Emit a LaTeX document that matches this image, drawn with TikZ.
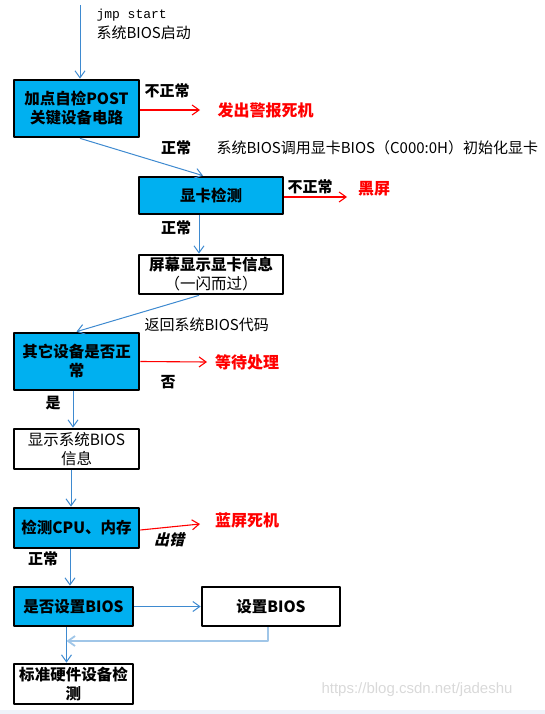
\documentclass[tikz,border=0pt]{standalone}
\usepackage{fontspec}
\setmainfont{Noto Sans CJK SC}
\newfontfamily\slantfont[FakeSlant=0.25]{Noto Sans CJK SC}
\newfontfamily\markfont{Liberation Sans}
\newfontfamily\codefont{Liberation Mono}
\usetikzlibrary{arrows.meta}
\definecolor{boxblue}{RGB}{0,176,240}
\definecolor{lineblue}{RGB}{62,138,208}
\definecolor{backblue}{RGB}{160,198,232}
\definecolor{bandgray}{RGB}{239,243,250}

\begin{document}
\begin{tikzpicture}[
	x=1pt, y=-1pt,
	line join=round,
	>={Straight Barb[length=7pt,width=10pt]},
	font=\fontsize{15}{19}\selectfont,
	box/.style={draw=black, line width=2.7pt, inner sep=1pt, align=center,
		font=\fontsize{15.5}{19}\selectfont\bfseries},
	bluebox/.style={box, fill=boxblue},
	whitebox/.style={box, fill=white},
	flow/.style={->, draw=lineblue, line width=1pt},
	fail/.style={->, draw=red, line width=1.1pt},
	lab/.style={font=\fontsize{15}{19}\selectfont\bfseries},
	warn/.style={text=red, font=\fontsize{16}{19}\selectfont\bfseries}
	]
	
	% Khung
	\useasboundingbox (0,0) rectangle (545,714);
	\fill[bandgray] (0,710) rectangle (545,714);
	
	% Cac khoi
	\node[bluebox, minimum width=125pt, minimum height=57pt] (post) at (76.5,108.5) {加点自检POST\\关键设备电路};
	\node[bluebox, minimum width=144pt, minimum height=37pt] (vga) at (211,195.5) {显卡检测};
	\node[whitebox, minimum width=144pt, minimum height=39pt] (vgainfo) at (211,274.5) {屏幕显示显卡信息\\{\mdseries （一闪而过）}};
	\node[bluebox, minimum width=125pt, minimum height=57pt] (other) at (76.5,361.5) {其它设备是否正\\常};
	\node[whitebox, minimum width=125pt, minimum height=40pt, font=\fontsize{15.5}{19}\selectfont] (sysinfo) at (76.5,449) {显示系统BIOS\\信息};
	\node[bluebox, minimum width=125pt, minimum height=40pt] (cpu) at (76.5,528) {检测CPU、内存};
	\node[bluebox, minimum width=119pt, minimum height=39pt] (askset) at (73.5,606.5) {是否设置BIOS};
	\node[whitebox, minimum width=138pt, minimum height=39pt] (setbios) at (271,606.5) {设置BIOS};
	\node[whitebox, minimum width=119pt, minimum height=40pt] (hwcheck) at (73.5,684) {标准硬件设备检\\测};
	
	% Diem phu
	\coordinate (start) at (80,5);
	\coordinate (alarmtip) at (200,110);
	\coordinate (blacktip) at (347,197);
	\coordinate (waittip) at (207,362);
	\coordinate (bluetip) at (200,524);
	\coordinate (merge) at (66.5,641);
	
	% Luong chinh
	\draw[flow] (start) -- ([xshift=3.5pt]post.north);
	\draw[flow] ([xshift=3.5pt]post.south) -- ([xshift=-8pt]vga.north);
	\draw[flow] ([xshift=-12pt]vga.south) -- ([xshift=-12pt]vgainfo.north);
	\draw[flow] ([xshift=-12pt]vgainfo.south) -- (other.north);
	\draw[flow] ([xshift=-3.5pt]other.south) -- ([xshift=-3.5pt]sysinfo.north);
	\draw[flow] ([xshift=-5.5pt]sysinfo.south) -- ([xshift=-5.5pt]cpu.north);
	\draw[flow] ([xshift=-6.5pt]cpu.south) -- ([xshift=-3.5pt]askset.north);
	\draw[flow] (askset.east) -- (setbios.west);
	\draw[flow] ([xshift=-7pt]askset.south) -- ([xshift=-7pt]hwcheck.north);
	\draw[->, draw=backblue, line width=1.8pt] ([xshift=-3pt]setbios.south) |- (merge);
	
	% Nhanh loi
	\draw[fail] (post.east |- alarmtip) -- (alarmtip);
	\draw[fail] (vga.east |- blacktip) -- (blacktip);
	\draw[fail] (other.east) -- (waittip);
	\draw[fail] ([yshift=-2pt]cpu.east) -- (bluetip);
	
	% Nhan
	\node[anchor=west, font=\fontsize{13}{19}\codefont] (jmp) at (93,15) {jmp start};
	\node[anchor=west] (boot) at (93,33) {系统BIOS启动};
	\node[lab] (bad1) at (167,91) {不正常};
	\node[warn, anchor=west] (alarm) at (214,110) {发出警报死机};
	\node[lab] (ok1) at (176,148) {正常};
	\node[anchor=west] (vgacall) at (213,148) {系统BIOS调用显卡BIOS（C000:0H）初始化显卡};
	\node[lab] (bad2) at (310,187) {不正常};
	\node[warn] (black) at (374,189) {黑屏};
	\node[lab] (ok2) at (176,228) {正常};
	\node[anchor=west] (back) at (141,325) {返回系统BIOS代码};
	\node[warn] (wait) at (247,362) {等待处理};
	\node[lab] (no) at (168,382) {否};
	\node[lab] (yes) at (53,403) {是};
	\node[warn] (bluescreen) at (247,520) {蓝屏死机};
	\node[lab, font=\fontsize{15}{19}\slantfont\bfseries] (err) at (169,540) {出错};
	\node[lab] (ok3) at (43,559) {正常};
	\node[anchor=east, text=black!15, font=\fontsize{15}{19}\markfont] (mark) at (516,690) {https://blog.csdn.net/jadeshu};
	
\end{tikzpicture}
\end{document}
